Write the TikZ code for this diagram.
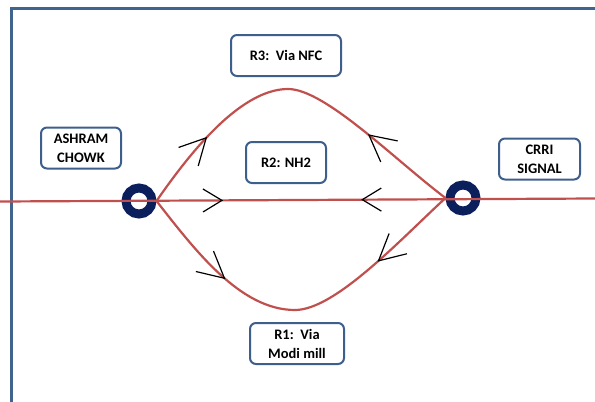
\documentclass[tikz,border=0pt]{standalone}
\usepackage{fontspec}
\setmainfont{Carlito}
\usetikzlibrary{arrows.meta,decorations.markings}
\definecolor{framecol}{HTML}{41648F}
\definecolor{roadred}{HTML}{C0504D}
\definecolor{ringnavy}{HTML}{0B1F5C}
\definecolor{boxblue}{HTML}{3E5F8C}
\tikzset{
  bigbarb/.tip={Straight Barb[length=26pt,width=27pt,line width=1.2pt,color=black]},
  smallbarb/.tip={Straight Barb[length=19pt,width=23pt,line width=1.2pt,color=black]},
  labelbox/.style={draw=boxblue, line width=2pt, rounded corners=6pt, fill=white,
    align=center, font=\bfseries\fontsize{14.5}{19}\selectfont,
    minimum height=41pt, inner sep=2pt},
  junction/.style={circle, draw=ringnavy, line width=9pt, minimum size=26pt, inner sep=0pt},
  road/.style={draw=roadred, line width=2.2pt},
  frameline/.style={draw=framecol, line width=3pt},
  twoway/.style n args={3}{postaction={decorate},
    decoration={markings,
      mark=at position #1 with {\arrow{#3}},
      mark=at position #2 with {\arrowreversed{#3}}}}
}

\begin{document}
\begin{tikzpicture}[x=1pt,y=-1pt]
	%%%%% START %%%%%
	\useasboundingbox (0,0) rectangle (595,402);
	
	\draw[frameline] (595,8) -- (11,8) -- (11,402);
	
	% junctions
	\node[junction] (ashram) at (139,201) {};
	\node[junction] (crri) at (463,198) {};
	
	% labels
	\node[labelbox, minimum width=80pt] (ashramlbl) at (81,148) {ASHRAM\\CHOWK};
	\node[labelbox, minimum width=81pt] (crrilbl) at (539.5,159) {CRRI\\SIGNAL};
	\node[labelbox, minimum width=110pt] (r3) at (286,55.5) {R3:\ \ Via NFC};
	\node[labelbox, minimum width=80pt] (r2) at (286,162.5) {R2: NH2};
	\node[labelbox, minimum width=94pt] (r1) at (297,343.5) {R1:\ \ Via\\Modi mill};
	
	\coordinate (r3top) at (288,89);
	\coordinate (r1bot) at (295,310);
	\coordinate (westend) at (0,201.5);
	\coordinate (eastend) at (595,198.5);
	
	% routes
	\draw[road, twoway={0.22}{0.73}{bigbarb}] (ashram.east) .. controls (185,160) and (238,89) .. (r3top)
		.. controls (325,89) and (395,160) .. (crri.west);
	\draw[road, twoway={0.375}{0.607}{smallbarb}] (westend) -- (eastend);
	\draw[road, twoway={0.28}{0.75}{bigbarb}] (ashram.east) .. controls (195,250) and (240,310) .. (r1bot)
		.. controls (335,310) and (400,240) .. (crri.west);
	
	%%%%% END %%%%%
\end{tikzpicture}
\end{document}
